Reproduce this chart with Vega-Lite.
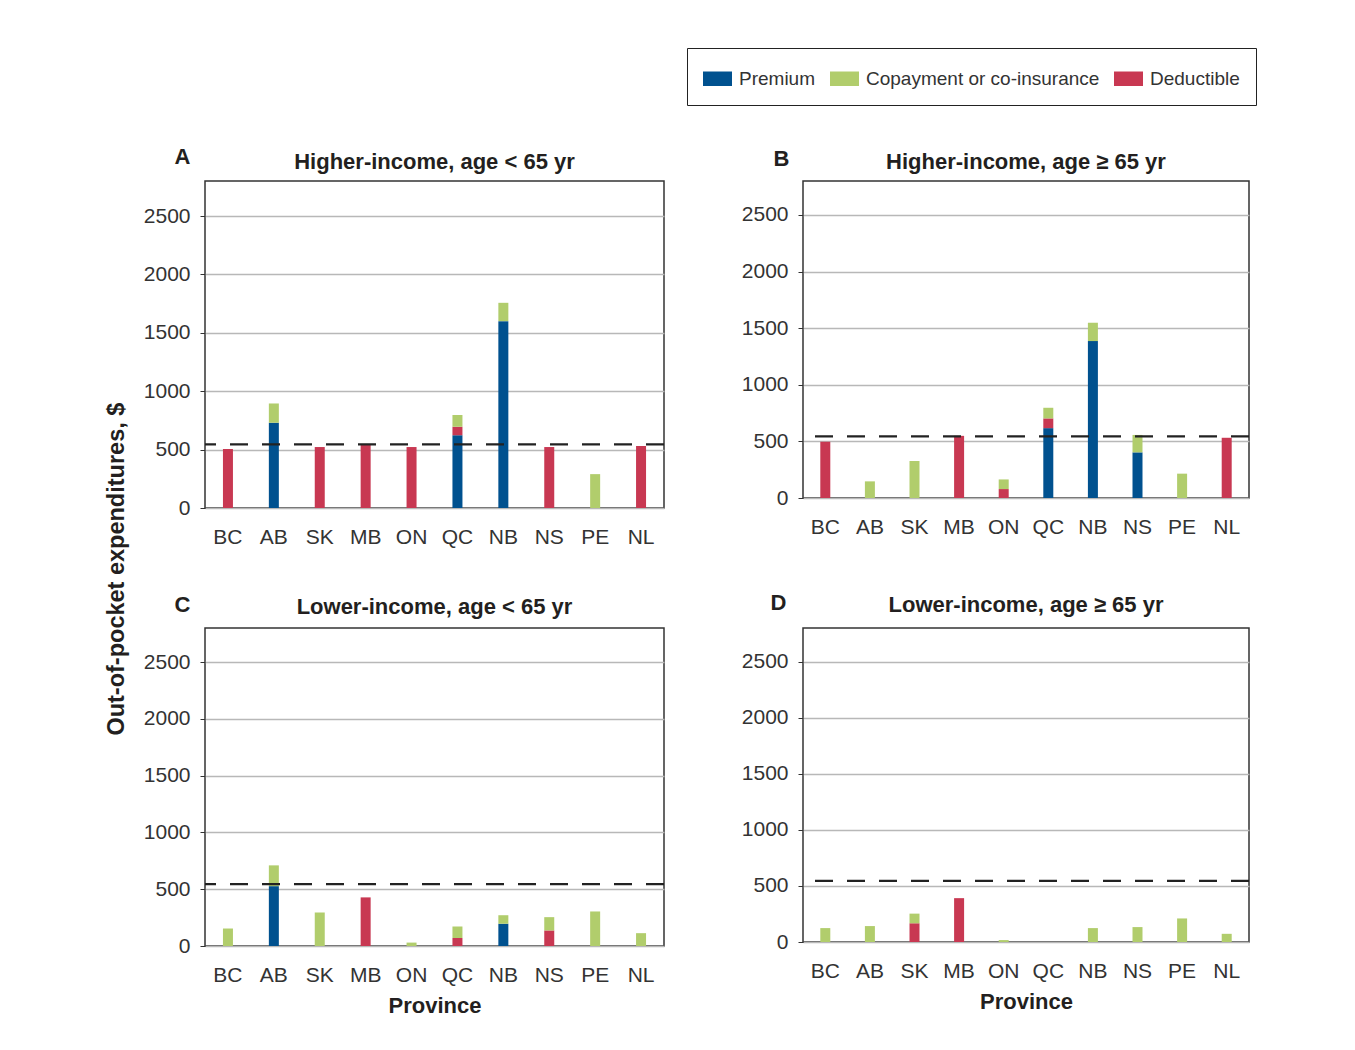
{
  "$schema": "https://vega.github.io/schema/vega-lite/v6.json",
  "background": "white",
  "padding": {"left": 105, "top": 47, "right": 10, "bottom": 10},
  "title": {"text": "Out-of-pocket expenditures, $", "orient": "left", "anchor": "middle", "fontSize": 23.5, "fontWeight": "bold", "color": "#231f20", "offset": 14, "dx": -37},
  "datasets": {
    "costs": [
      {"panel": "A", "province": "BC", "component": "Deductible", "value": 505},
      {"panel": "A", "province": "AB", "component": "Premium", "value": 730},
      {"panel": "A", "province": "AB", "component": "Copayment or co-insurance", "value": 165},
      {"panel": "A", "province": "SK", "component": "Deductible", "value": 522},
      {"panel": "A", "province": "MB", "component": "Deductible", "value": 547},
      {"panel": "A", "province": "ON", "component": "Deductible", "value": 522},
      {"panel": "A", "province": "QC", "component": "Premium", "value": 622},
      {"panel": "A", "province": "QC", "component": "Deductible", "value": 74},
      {"panel": "A", "province": "QC", "component": "Copayment or co-insurance", "value": 100},
      {"panel": "A", "province": "NB", "component": "Premium", "value": 1600},
      {"panel": "A", "province": "NB", "component": "Copayment or co-insurance", "value": 157},
      {"panel": "A", "province": "NS", "component": "Deductible", "value": 522},
      {"panel": "A", "province": "PE", "component": "Copayment or co-insurance", "value": 290},
      {"panel": "A", "province": "NL", "component": "Deductible", "value": 531},
      {"panel": "B", "province": "BC", "component": "Deductible", "value": 497},
      {"panel": "B", "province": "AB", "component": "Copayment or co-insurance", "value": 147},
      {"panel": "B", "province": "SK", "component": "Copayment or co-insurance", "value": 327},
      {"panel": "B", "province": "MB", "component": "Deductible", "value": 549},
      {"panel": "B", "province": "ON", "component": "Deductible", "value": 79},
      {"panel": "B", "province": "ON", "component": "Copayment or co-insurance", "value": 85},
      {"panel": "B", "province": "QC", "component": "Premium", "value": 617},
      {"panel": "B", "province": "QC", "component": "Deductible", "value": 86},
      {"panel": "B", "province": "QC", "component": "Copayment or co-insurance", "value": 94},
      {"panel": "B", "province": "NB", "component": "Premium", "value": 1386},
      {"panel": "B", "province": "NB", "component": "Copayment or co-insurance", "value": 162},
      {"panel": "B", "province": "NS", "component": "Premium", "value": 403},
      {"panel": "B", "province": "NS", "component": "Copayment or co-insurance", "value": 154},
      {"panel": "B", "province": "PE", "component": "Copayment or co-insurance", "value": 215},
      {"panel": "B", "province": "NL", "component": "Deductible", "value": 532},
      {"panel": "C", "province": "BC", "component": "Copayment or co-insurance", "value": 154},
      {"panel": "C", "province": "AB", "component": "Premium", "value": 527},
      {"panel": "C", "province": "AB", "component": "Copayment or co-insurance", "value": 183},
      {"panel": "C", "province": "SK", "component": "Copayment or co-insurance", "value": 295},
      {"panel": "C", "province": "MB", "component": "Deductible", "value": 428},
      {"panel": "C", "province": "ON", "component": "Copayment or co-insurance", "value": 30},
      {"panel": "C", "province": "QC", "component": "Deductible", "value": 71},
      {"panel": "C", "province": "QC", "component": "Copayment or co-insurance", "value": 100},
      {"panel": "C", "province": "NB", "component": "Premium", "value": 196},
      {"panel": "C", "province": "NB", "component": "Copayment or co-insurance", "value": 75},
      {"panel": "C", "province": "NS", "component": "Deductible", "value": 137},
      {"panel": "C", "province": "NS", "component": "Copayment or co-insurance", "value": 117},
      {"panel": "C", "province": "PE", "component": "Copayment or co-insurance", "value": 304},
      {"panel": "C", "province": "NL", "component": "Copayment or co-insurance", "value": 113},
      {"panel": "D", "province": "BC", "component": "Copayment or co-insurance", "value": 124},
      {"panel": "D", "province": "AB", "component": "Copayment or co-insurance", "value": 142},
      {"panel": "D", "province": "SK", "component": "Deductible", "value": 167},
      {"panel": "D", "province": "SK", "component": "Copayment or co-insurance", "value": 86},
      {"panel": "D", "province": "MB", "component": "Deductible", "value": 391},
      {"panel": "D", "province": "ON", "component": "Copayment or co-insurance", "value": 17},
      {"panel": "D", "province": "QC", "component": "Copayment or co-insurance", "value": 0},
      {"panel": "D", "province": "NB", "component": "Copayment or co-insurance", "value": 124},
      {"panel": "D", "province": "NS", "component": "Copayment or co-insurance", "value": 133},
      {"panel": "D", "province": "PE", "component": "Copayment or co-insurance", "value": 210},
      {"panel": "D", "province": "NL", "component": "Copayment or co-insurance", "value": 73}
    ],
    "cap": [{"threshold": 545}]
  },
  "columns": 2,
  "align": "each",
  "spacing": {"row": 42, "column": 74},
  "concat": [
    {
      "width": 459, "height": 327,
      "title": {"text": "Higher-income, age < 65 yr", "offset": -29},
      "layer": [
        {
          "data": {"name": "costs"},
          "transform": [{"filter": "datum.panel === 'A'"}],
          "mark": {"type": "bar", "size": 10},
          "encoding": {
            "x": {"field": "province", "type": "nominal", "title": null, "scale": {"domain": ["BC","AB","SK","MB","ON","QC","NB","NS","PE","NL"]}},
            "y": {"field": "value", "type": "quantitative", "stack": "zero", "title": "A", "scale": {"domain": [0, 2700]}, "axis": {"values": [0, 500, 1000, 1500, 2000, 2500], "format": "d", "titleX": -23, "titleY": -18}},
            "color": {"field": "component", "type": "nominal", "scale": {"domain": ["Premium", "Copayment or co-insurance", "Deductible"], "range": ["#00518f", "#b1cd6c", "#c83852"]}},
            "order": {"field": "component", "sort": "descending"}
          }
        },
        {
          "data": {"name": "cap"},
          "mark": {"type": "rule", "strokeDash": [18, 14], "strokeWidth": 2.2, "color": "#222"},
          "encoding": {"y": {"field": "threshold", "type": "quantitative", "title": "A"}}
        }
      ]
    },
    {
      "width": 446, "height": 317,
      "title": {"text": "Higher-income, age ≥ 65 yr", "offset": -27},
      "layer": [
        {
          "data": {"name": "costs"},
          "transform": [{"filter": "datum.panel === 'B'"}],
          "mark": {"type": "bar", "size": 10},
          "encoding": {
            "x": {"field": "province", "type": "nominal", "title": null, "scale": {"domain": ["BC","AB","SK","MB","ON","QC","NB","NS","PE","NL"]}},
            "y": {"field": "value", "type": "quantitative", "stack": "zero", "title": "B", "scale": {"domain": [0, 2700]}, "axis": {"values": [0, 500, 1000, 1500, 2000, 2500], "format": "d", "titleX": -22, "titleY": -16}},
            "color": {"field": "component", "type": "nominal", "scale": {"domain": ["Premium", "Copayment or co-insurance", "Deductible"], "range": ["#00518f", "#b1cd6c", "#c83852"]}},
            "order": {"field": "component", "sort": "descending"}
          }
        },
        {
          "data": {"name": "cap"},
          "mark": {"type": "rule", "strokeDash": [18, 14], "strokeWidth": 2.2, "color": "#222"},
          "encoding": {"y": {"field": "threshold", "type": "quantitative", "title": "B"}}
        }
      ]
    },
    {
      "width": 459, "height": 318,
      "title": {"text": "Lower-income, age < 65 yr", "offset": -26},
      "layer": [
        {
          "data": {"name": "costs"},
          "transform": [{"filter": "datum.panel === 'C'"}],
          "mark": {"type": "bar", "size": 10},
          "encoding": {
            "x": {"field": "province", "type": "nominal", "title": "Province", "scale": {"domain": ["BC","AB","SK","MB","ON","QC","NB","NS","PE","NL"]}},
            "y": {"field": "value", "type": "quantitative", "stack": "zero", "title": "C", "scale": {"domain": [0, 2700]}, "axis": {"values": [0, 500, 1000, 1500, 2000, 2500], "format": "d", "titleX": -23, "titleY": -17}},
            "color": {"field": "component", "type": "nominal", "scale": {"domain": ["Premium", "Copayment or co-insurance", "Deductible"], "range": ["#00518f", "#b1cd6c", "#c83852"]}},
            "order": {"field": "component", "sort": "descending"}
          }
        },
        {
          "data": {"name": "cap"},
          "mark": {"type": "rule", "strokeDash": [18, 14], "strokeWidth": 2.2, "color": "#222"},
          "encoding": {"y": {"field": "threshold", "type": "quantitative", "title": "C"}}
        }
      ]
    },
    {
      "width": 446, "height": 314,
      "title": {"text": "Lower-income, age ≥ 65 yr", "offset": -26},
      "layer": [
        {
          "data": {"name": "costs"},
          "transform": [{"filter": "datum.panel === 'D'"}],
          "mark": {"type": "bar", "size": 10},
          "encoding": {
            "x": {"field": "province", "type": "nominal", "title": "Province", "scale": {"domain": ["BC","AB","SK","MB","ON","QC","NB","NS","PE","NL"]}},
            "y": {"field": "value", "type": "quantitative", "stack": "zero", "title": "D", "scale": {"domain": [0, 2700]}, "axis": {"values": [0, 500, 1000, 1500, 2000, 2500], "format": "d", "titleX": -25, "titleY": -19}},
            "color": {"field": "component", "type": "nominal", "scale": {"domain": ["Premium", "Copayment or co-insurance", "Deductible"], "range": ["#00518f", "#b1cd6c", "#c83852"]}},
            "order": {"field": "component", "sort": "descending"}
          }
        },
        {
          "data": {"name": "cap"},
          "mark": {"type": "rule", "strokeDash": [18, 14], "strokeWidth": 2.2, "color": "#222"},
          "encoding": {"y": {"field": "threshold", "type": "quantitative", "title": "D"}}
        }
      ]
    }
  ],
  "config": {
    "font": "Liberation Sans",
    "view": {"stroke": "#333", "strokeWidth": 1.5},
    "title": {"fontSize": 22, "fontWeight": "bold", "color": "#231f20"},
    "axis": {"labelFontSize": 21, "labelColor": "#333", "domain": false, "gridColor": "#b8b8b8", "gridWidth": 1.5, "titleFontSize": 22, "titleFontWeight": "bold", "titleColor": "#231f20"},
    "axisY": {"tickSize": 5, "tickColor": "#333", "labelPadding": 10, "grid": true, "titleAngle": 0, "titleAlign": "center", "titleBaseline": "alphabetic"},
    "axisX": {"ticks": false, "grid": false, "labelPadding": 18, "labelAngle": 0, "titlePadding": 10},
    "legend": {
      "orient": "none", "legendX": 482, "legendY": -133, "direction": "horizontal", "title": null,
      "strokeColor": "#222", "fillColor": "white", "padding": 16,
      "symbolType": "M-1,-0.5H1V0.5H-1Z", "symbolSize": 841, "symbolStrokeWidth": 0, "symbolOpacity": 1,
      "labelFontSize": 19, "labelColor": "#333", "labelOffset": 7, "columnPadding": 14, "labelLimit": 400
    }
  }
}
